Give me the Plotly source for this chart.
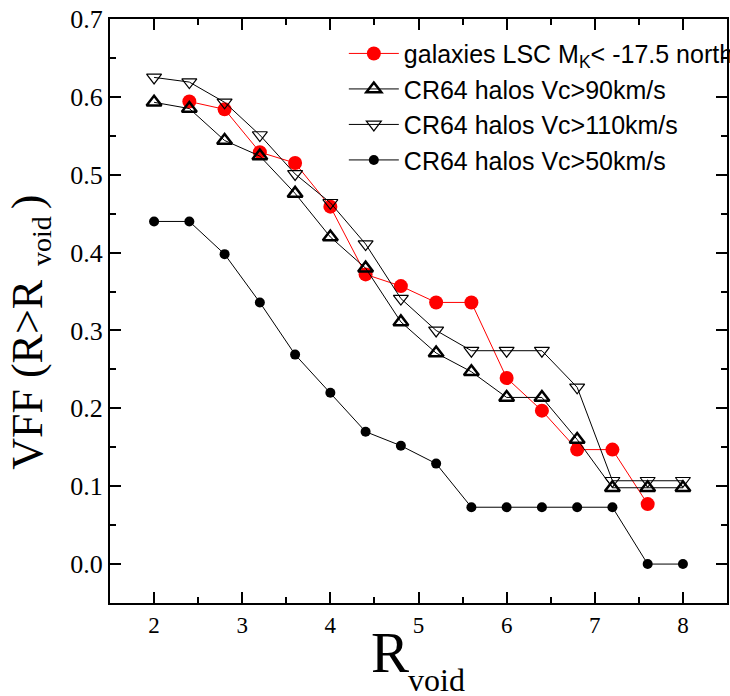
import plotly.graph_objects as go

x_vals = [2.0, 2.4, 2.8, 3.2, 3.6, 4.0, 4.4, 4.8, 5.2, 5.6, 6.0, 6.4, 6.8, 7.2, 7.6, 8.0]

gal_x = [2.4, 2.8, 3.2, 3.6, 4.0, 4.4, 4.8, 5.2, 5.6, 6.0, 6.4, 6.8, 7.2, 7.6]
gal_y = [0.594, 0.584, 0.529, 0.515, 0.459, 0.372, 0.357, 0.336, 0.336, 0.239, 0.197, 0.147, 0.147, 0.077]

vc90_y = [0.593, 0.585, 0.544, 0.524, 0.476, 0.420, 0.380, 0.311, 0.271, 0.247, 0.214, 0.214, 0.160, 0.098, 0.098, 0.098]
vc110_y = [0.625, 0.619, 0.593, 0.551, 0.501, 0.464, 0.411, 0.341, 0.300, 0.274, 0.274, 0.274, 0.227, 0.107, 0.107, 0.107]
vc50_y = [0.440, 0.440, 0.398, 0.336, 0.269, 0.220, 0.170, 0.152, 0.129, 0.073, 0.073, 0.073, 0.073, 0.073, 0.0, 0.0]

names = [
    "galaxies LSC M<sub>K</sub>< -17.5 north",
    "CR64 halos Vc>90km/s",
    "CR64 halos Vc>110km/s",
    "CR64 halos Vc>50km/s",
]

x_ticks = [2, 3, 4, 5, 6, 7, 8]
y_ticks = [0, 0.1, 0.2, 0.3, 0.4, 0.5, 0.6, 0.7]
y_ticktext = ["0.0", "0.1", "0.2", "0.3", "0.4", "0.5", "0.6", "0.7"]

fig = go.Figure()
fig.add_trace(go.Scatter(
    x=gal_x, y=gal_y, name=names[0], mode="lines+markers",
    line=dict(color="red", width=1),
    marker=dict(symbol="circle", size=14, color="red"),
))
fig.add_trace(go.Scatter(
    x=x_vals, y=vc90_y, name=names[1], mode="lines+markers",
    line=dict(color="black", width=1),
    marker=dict(symbol="triangle-up-open", size=13, color="black", line=dict(width=2.5, color="black")),
))
fig.add_trace(go.Scatter(
    x=x_vals, y=vc110_y, name=names[2], mode="lines+markers",
    line=dict(color="black", width=1),
    marker=dict(symbol="triangle-down-open", size=13, color="black", line=dict(width=1.2, color="black")),
))
fig.add_trace(go.Scatter(
    x=x_vals, y=vc50_y, name=names[3], mode="lines+markers",
    line=dict(color="black", width=1),
    marker=dict(symbol="circle", size=10, color="black"),
))

serif = "Liberation Serif, Times New Roman, serif"
axis_common = dict(
    showline=True, linecolor="black", linewidth=2, mirror="ticks",
    ticks="inside", ticklen=11, tickwidth=2, tickcolor="black",
    showgrid=False, zeroline=False,
)

fig.update_xaxes(
    range=[1.5, 8.5], tickmode="array", tickvals=x_ticks,
    tickfont=dict(family=serif, size=23, color="black"),
    minor=dict(ticks="inside", ticklen=6, tickwidth=2, tickcolor="black", dtick=0.5, tick0=1.5),
    **axis_common,
)
fig.update_yaxes(
    range=[-0.05, 0.7], tickmode="array", tickvals=y_ticks, ticktext=y_ticktext,
    tickfont=dict(family=serif, size=26, color="black"),
    minor=dict(ticks="inside", ticklen=6, tickwidth=2, tickcolor="black", dtick=0.05, tick0=0),
    **axis_common,
)

# axis titles
fig.add_annotation(
    text="R", xref="paper", yref="paper", x=0.4537, y=-0.085,
    xanchor="center", yanchor="middle", showarrow=False,
    font=dict(family=serif, size=57, color="black"),
)
fig.add_annotation(
    text="void", xref="paper", yref="paper", x=0.4797, y=-0.132,
    xanchor="left", yanchor="middle", showarrow=False,
    font=dict(family=serif, size=32, color="black"),
)
fig.add_annotation(
    text="VFF (R>R<sub><span style='font-size:28px'>  void </span></sub>)",
    xref="paper", yref="paper", x=-0.13, y=0.464,
    xanchor="center", yanchor="middle", showarrow=False, textangle=-90,
    font=dict(family=serif, size=44, color="black"),
)

fig.update_layout(
    width=730, height=696,
    margin=dict(l=110, r=3, t=19, b=93, autoexpand=False),
    plot_bgcolor="white", paper_bgcolor="white",
    showlegend=True,
    legend=dict(
        x=0.379, y=0.98, xanchor="left", yanchor="top",
        bgcolor="rgba(0,0,0,0)",
        font=dict(family="Liberation Sans, Arial, sans-serif", size=25, color="black"),
        tracegroupgap=0, itemwidth=50,
    ),
)

fig.write_html("out.html")
